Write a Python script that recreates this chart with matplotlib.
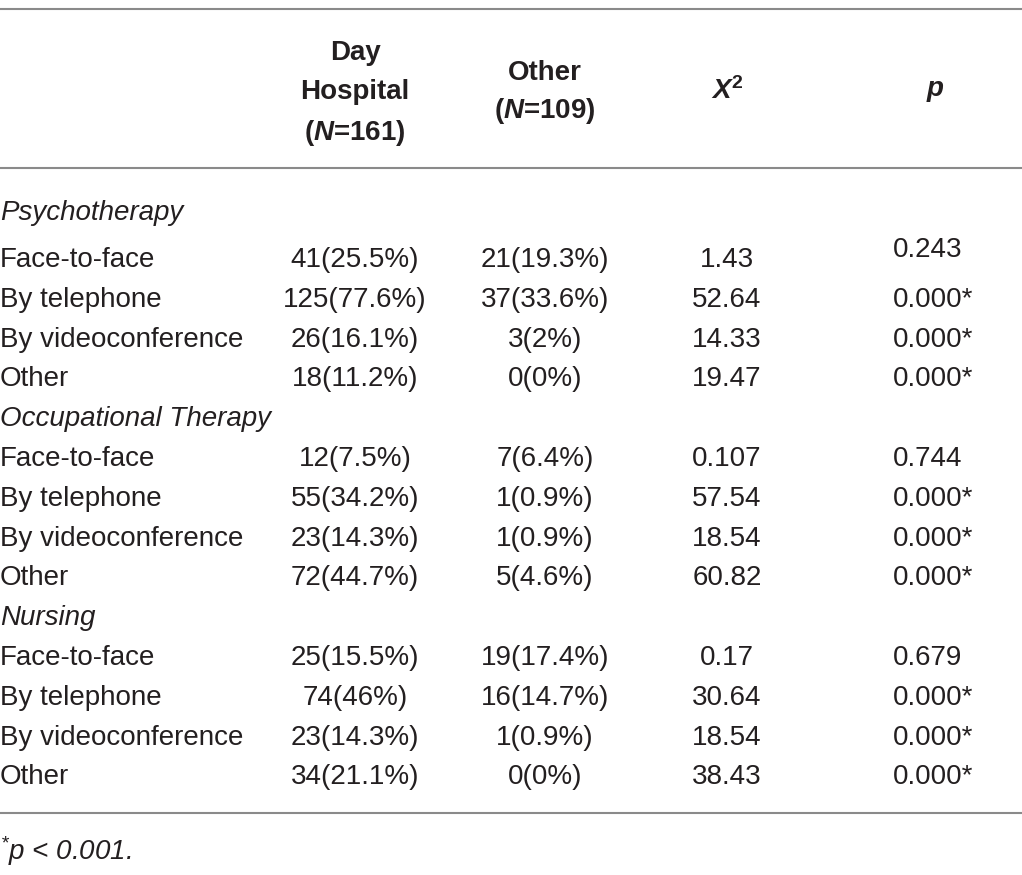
import matplotlib
matplotlib.use("Agg")
import matplotlib.pyplot as plt

# table contents
sections = ["Psychotherapy", "Occupational Therapy", "Nursing"]
modes = ["Face-to-face", "By telephone", "By videoconference", "Other"]
day_hospital = ["41(25.5%)", "125(77.6%)", "26(16.1%)", "18(11.2%)",
                "12(7.5%)", "55(34.2%)", "23(14.3%)", "72(44.7%)",
                "25(15.5%)", "74(46%)", "23(14.3%)", "34(21.1%)"]
other = ["21(19.3%)", "37(33.6%)", "3(2%)", "0(0%)",
         "7(6.4%)", "1(0.9%)", "1(0.9%)", "5(4.6%)",
         "19(17.4%)", "16(14.7%)", "1(0.9%)", "0(0%)"]
chi2 = ["1.43", "52.64", "14.33", "19.47",
        "0.107", "57.54", "18.54", "60.82",
        "0.17", "30.64", "18.54", "38.43"]
pvals = ["0.243", "0.000*", "0.000*", "0.000*",
         "0.744", "0.000*", "0.000*", "0.000*",
         "0.679", "0.000*", "0.000*", "0.000*"]
footnote = r"$^{*}$$p$ < $0.001$."

plt.rcParams['font.family'] = ['Liberation Sans', 'DejaVu Sans']
plt.rcParams['mathtext.fontset'] = 'custom'
plt.rcParams['mathtext.rm'] = 'Liberation Sans:italic'
plt.rcParams['mathtext.it'] = 'Liberation Sans:italic'
plt.rcParams['mathtext.bf'] = 'Liberation Sans:bold'
plt.rcParams['mathtext.bfit'] = 'Liberation Sans:bold:italic'

W, H = 1022, 875
fig = plt.figure(figsize=(W / 100, H / 100), dpi=100)
ax = fig.add_axes([0, 0, 1, 1])
ax.set_xlim(0, W)
ax.set_ylim(H, 0)
ax.axis('off')

txt = '#231f20'
fs = 20
line_col = '#8a8a8a'
dy = 3  # small vertical nudge

# rules
for y in (9, 168, 813):
    ax.plot([0, W], [y, y], color=line_col, lw=1.5, solid_capstyle='butt')

# header
cx = [355, 545, 727, 935]
ax.text(cx[0], 50 + dy, "Day", ha='center', va='center', fontsize=fs, fontweight='bold', color=txt)
ax.text(cx[0], 89 + dy, "Hospital", ha='center', va='center', fontsize=fs, fontweight='bold', color=txt)
ax.text(cx[0], 130 + dy, r"($\mathbfit{N}$=161)", ha='center', va='center', fontsize=fs,
        fontweight='bold', color=txt)
ax.text(cx[1], 70 + dy, "Other", ha='center', va='center', fontsize=fs, fontweight='bold', color=txt)
ax.text(cx[1], 108 + dy, r"($\mathbfit{N}$=109)", ha='center', va='center', fontsize=fs,
        fontweight='bold', color=txt)
ax.text(cx[2], 88 + dy, r"$\mathbfit{X}^{\mathbf{2}}$", ha='center', va='center', fontsize=fs, color=txt)
ax.text(cx[3], 88 + dy, r"$\mathbfit{p}$", ha='center', va='center', fontsize=fs, color=txt)

# body
row = 0
k = 0
for s in sections:
    y = 210 if row == 0 else 257 + (row - 1) * 39.8
    ax.text(0, y + dy, s, ha='left', va='center', fontsize=fs, style='italic', color=txt)
    row += 1
    for m in modes:
        y = 257 + (row - 1) * 39.8 + dy
        ax.text(0, y, m, ha='left', va='center', fontsize=fs, color=txt)
        ax.text(cx[0], y, day_hospital[k], ha='center', va='center', fontsize=fs, color=txt)
        ax.text(cx[1], y, other[k], ha='center', va='center', fontsize=fs, color=txt)
        ax.text(cx[2], y, chi2[k], ha='center', va='center', fontsize=fs, color=txt)
        py = y - 10 if k == 0 else y
        ax.text(893, py, pvals[k], ha='left', va='center', fontsize=fs, color=txt)
        row += 1
        k += 1

ax.text(0, 848 + dy, footnote, ha='left', va='center', fontsize=fs, style='italic', color=txt)

fig.savefig("out.png", dpi=100)
